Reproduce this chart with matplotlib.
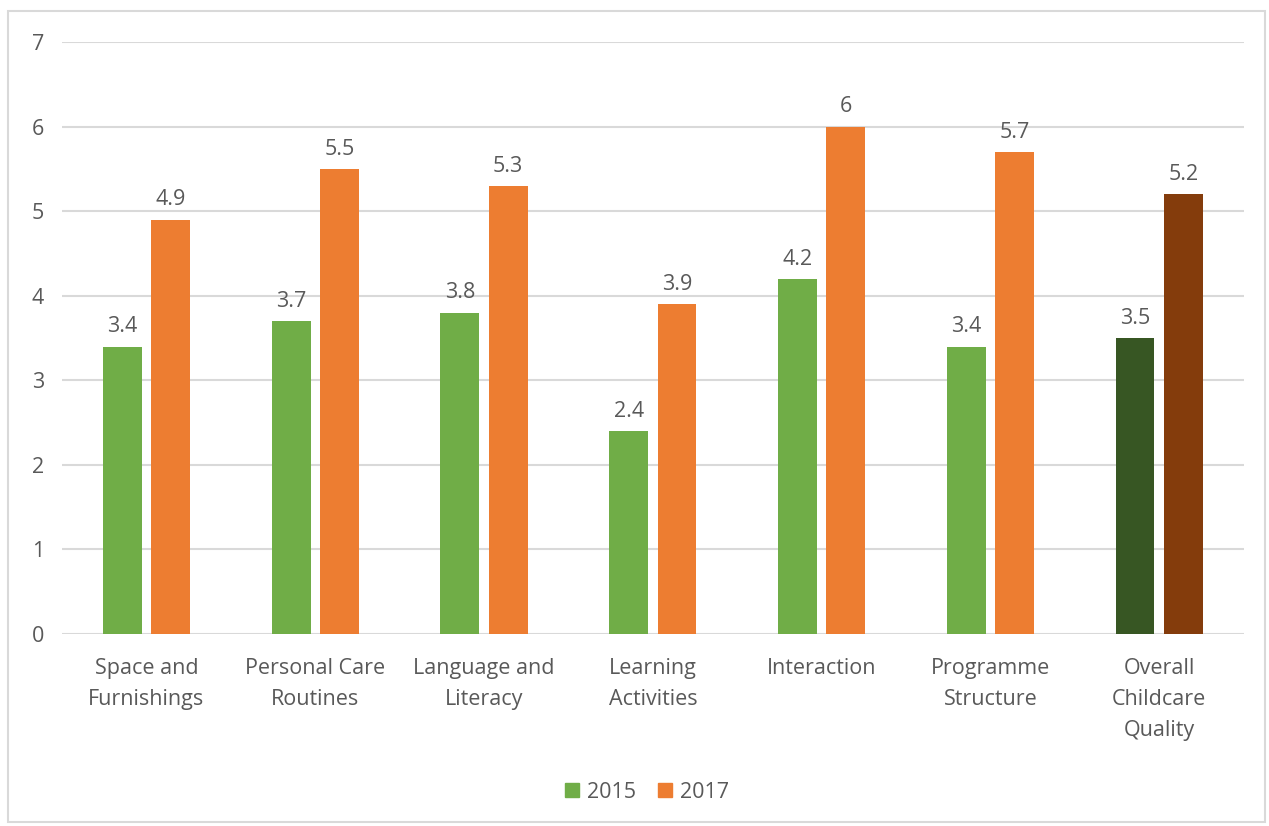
import matplotlib
matplotlib.use("Agg")
import matplotlib.pyplot as plt
from matplotlib.patches import Rectangle, Patch
import numpy as np

categories = ["Space and\nFurnishings", "Personal Care\nRoutines", "Language and\nLiteracy",
              "Learning\nActivities", "Interaction", "Programme\nStructure",
              "Overall\nChildcare\nQuality"]
vals_2015 = [3.4, 3.7, 3.8, 2.4, 4.2, 3.4, 3.5]
vals_2017 = [4.9, 5.5, 5.3, 3.9, 6.0, 5.7, 5.2]
labels_2015 = ["3.4", "3.7", "3.8", "2.4", "4.2", "3.4", "3.5"]
labels_2017 = ["4.9", "5.5", "5.3", "3.9", "6", "5.7", "5.2"]

GREEN = "#70ad47"
ORANGE = "#ed7d31"
DARK_GREEN = "#375623"
DARK_ORANGE = "#843c0c"
TXT = "#595959"
FS = 15.5

plt.rcParams["font.family"] = ["Open Sans", "DejaVu Sans"]

fig = plt.figure(figsize=(12.69, 8.26), dpi=100)
ax = fig.add_axes([0.0489, 0.2324, 0.9311, 0.7166])

x = np.arange(len(categories))
off, w = 0.143, 0.23
c15 = [GREEN] * 6 + [DARK_GREEN]
c17 = [ORANGE] * 6 + [DARK_ORANGE]
ax.bar(x - off, vals_2015, w, color=c15, zorder=3)
ax.bar(x + off, vals_2017, w, color=c17, zorder=3)

for xi, v, s in zip(x - off, vals_2015, labels_2015):
    ax.text(xi, v + 0.11, s, ha="center", va="bottom", fontsize=FS, color=TXT)
for xi, v, s in zip(x + off, vals_2017, labels_2017):
    ax.text(xi, v + 0.11, s, ha="center", va="bottom", fontsize=FS, color=TXT)

ax.set_xlim(-0.5, len(categories) - 0.5)
ax.set_ylim(0, 7)
ax.set_yticks(range(8))
ax.yaxis.grid(True, color="#d9d9d9", linewidth=1.5, zorder=0)
ax.set_xticks(x)
ax.set_xticklabels(categories, fontsize=FS, color=TXT, linespacing=1.65)
ax.tick_params(axis="y", labelsize=FS, labelcolor=TXT, length=0, pad=13)
ax.tick_params(axis="x", length=0, pad=17)
for sp in ax.spines.values():
    sp.set_visible(False)

handles = [Patch(color=GREEN, label="2015"), Patch(color=ORANGE, label="2017")]
fig.legend(handles=handles, loc="center", bbox_to_anchor=(0.51, 0.041), ncol=2,
           frameon=False, fontsize=FS, labelcolor=TXT, handlelength=0.65,
           handleheight=0.65, columnspacing=1.0, handletextpad=0.4)

fig.patches.append(Rectangle((0.006, 0.005), 0.991, 0.982, transform=fig.transFigure,
                             fill=False, edgecolor="#d9d9d9", linewidth=1.5))

fig.savefig("out.png", dpi=100)
